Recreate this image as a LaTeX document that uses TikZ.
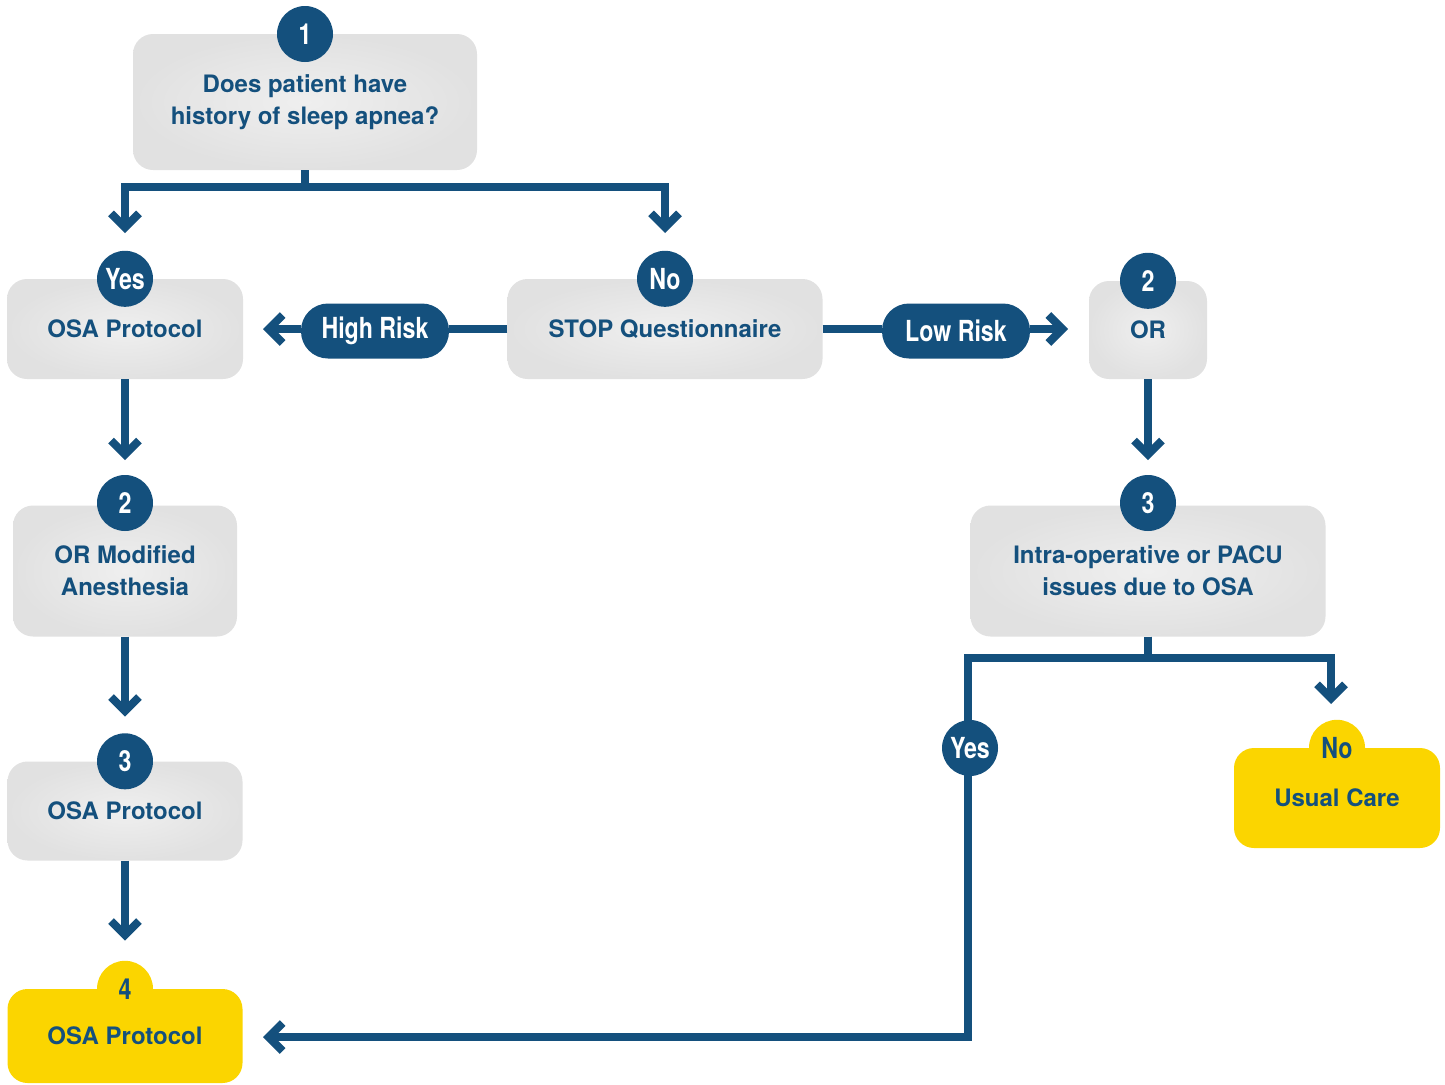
\documentclass[tikz,border=0pt]{standalone}
\usepackage{fontspec}
\setmainfont{TeX Gyre Heros}
\newfontfamily\condfont[FakeStretch=0.8]{TeX Gyre Heros}
\usetikzlibrary{arrows.meta}

\definecolor{navy}{HTML}{14507D}
\definecolor{gold}{HTML}{FBD500}
\definecolor{boxlight}{HTML}{EFEFEF}
\definecolor{boxgray}{HTML}{E1E1E1}

\newcommand{\boxfont}{\bfseries\fontsize{24}{32}\selectfont}
\newcommand{\tagfont}{\condfont\bfseries\fontsize{29}{30}\selectfont}

\tikzset{
  stepbox/.style={rectangle, rounded corners=20pt, inner color=boxlight,
    outer color=boxgray, text=navy, font=\boxfont, align=center, inner sep=0pt},
  endbox/.style={rectangle, rounded corners=20pt, fill=gold, text=navy,
    font=\boxfont, align=center, inner sep=0pt},
  badge/.style={circle, fill=navy, text=white, minimum size=56pt,
    inner sep=0pt, font=\tagfont},
  goldbadge/.style={badge, fill=gold, text=navy},
  pill/.style={rectangle, rounded corners=27pt, fill=navy, text=white,
    minimum height=55pt, minimum width=148pt, inner sep=0pt, font=\tagfont},
  link/.style={navy, line width=8pt},
  arr/.style={link, -{Straight Barb[length=14pt,width=28pt]}}
}

\begin{document}
\begin{tikzpicture}[x=1pt,y=-1pt]

  \useasboundingbox (0,0) rectangle (1445,1084);

  % Boxes
  \node[stepbox, minimum width=344pt, minimum height=136pt] (hist) at (305,102)
    {Does patient have\\history of sleep apnea?};
  \node[stepbox, minimum width=236pt, minimum height=100pt] (osa1) at (125,329) {OSA Protocol};
  \node[stepbox, minimum width=315pt, minimum height=100pt] (stop) at (665,329) {STOP Questionnaire};
  \node[stepbox, minimum width=118pt, minimum height=98pt] (or) at (1148,330) {OR};
  \node[stepbox, minimum width=224pt, minimum height=131pt] (ormod) at (125,571)
    {OR Modified\\Anesthesia};
  \node[stepbox, minimum width=355pt, minimum height=131pt] (intra) at (1148,571)
    {Intra-operative or PACU\\issues due to OSA};
  \node[stepbox, minimum width=235pt, minimum height=99pt] (osa3) at (125,811) {OSA Protocol};
  \node[endbox, minimum width=235pt, minimum height=94pt] (osa4) at (125,1036) {OSA Protocol};
  \node[endbox, minimum width=206pt, minimum height=100pt] (usual) at (1337,798) {Usual Care};

  % Arrow tips
  \coordinate (tyes) at (125,233);
  \coordinate (tno) at (665,233);
  \coordinate (thigh) at (263,329);
  \coordinate (tlow) at (1068,329);
  \coordinate (tusual) at (1331,704);
  \coordinate (bend) at (968,1037);
  \coordinate (tosa4) at (263,1037);

  % Connectors
  \draw[arr] (hist.south) -- ++(0,17) -| (tyes);
  \draw[arr] (hist.south) -- ++(0,17) -| (tno);

  \node[pill] (high) at (375,331) {High Risk};
  \node[pill] (low) at (956,331) {Low Risk};
  \draw[link] (stop.west) -- (high.east |- stop.west);
  \draw[arr] (high.west |- stop.west) -- (thigh);
  \draw[link] (stop.east) -- (low.west |- stop.east);
  \draw[arr] (low.east |- stop.east) -- (tlow);

  \draw[arr] (osa1.south) -- ++(0,81);
  \draw[arr] (ormod.south) -- ++(0,80);
  \draw[arr] (osa3.south) -- ++(0,80);
  \draw[arr] (or.south) -- ++(0,81);

  \draw[arr] (intra.south) -- ++(0,21) -| (tusual);
  \draw[arr] (intra.south) -- ++(0,21) -| (bend) -- (tosa4);

  % Badges
  \node[badge] (b1) at (305,34) {1};
  \node[badge] (byes) at (osa1.north) {Yes};
  \node[badge] (bno) at (stop.north) {No};
  \node[badge] (b2r) at (or.north) {2};
  \node[badge] (b2l) at (125,503) {2};
  \node[badge] (b3r) at (1148,503) {3};
  \node[badge] (b3l) at (osa3.north) {3};
  \node[goldbadge] (b4) at (osa4.north) {4};
  \node[goldbadge] (bnou) at (usual.north) {No};
  \node[badge] (yes2) at (970,748) {Yes};

\end{tikzpicture}
\end{document}
